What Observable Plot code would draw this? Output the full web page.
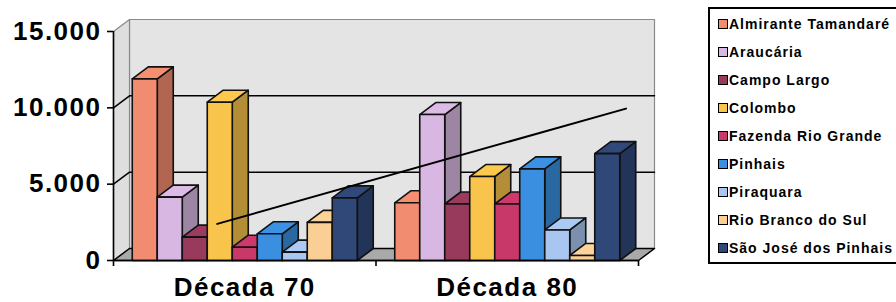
<!DOCTYPE html>
<html>
<head>
<meta charset="utf-8">
<script src="https://cdn.jsdelivr.net/npm/d3@7"></script>
<script src="https://cdn.jsdelivr.net/npm/@observablehq/plot@0.6"></script>
<style>
  html, body { margin: 0; padding: 0; background: #fff; width: 896px; height: 302px; overflow: hidden; }
  #wrap { position: relative; width: 896px; height: 302px; }
  #chart { position: absolute; left: 0; top: 0; }
  #legend {
    position: absolute; left: 708px; top: 7px; width: 210px; height: 252px;
    border: 2px solid #000; box-sizing: content-box;
    font-family: "Liberation Sans", Arial, sans-serif; font-weight: bold;
    font-size: 14px; letter-spacing: 1px; color: #000;
    padding-top: 1px;
  }
  .item { height: 28px; display: flex; align-items: center; padding-left: 8px; white-space: nowrap; }
  .sw { width: 8px; height: 8px; border: 1.5px solid #000; margin-right: 1px; flex: none; }
</style>
</head>
<body>
<div id="wrap"><div id="chart"></div><div id="legend"></div></div>
<script>
// ---- data ----
const categories = ["Década 70", "Década 80"];
const municipios = ["Almirante Tamandaré", "Araucária", "Campo Largo", "Colombo", "Fazenda Rio Grande", "Pinhais", "Piraquara", "Rio Branco do Sul", "São José dos Pinhais"];
const colors = ["#f28c70", "#d8b8e2", "#983a5c", "#f8c44c", "#c83868", "#3a8fe0", "#a8c6f0", "#f9cf96", "#2f4878"];
const decada70 = [11900, 4150, 1530, 10370, 870, 1750, 550, 2500, 4100];
const decada80 = [3780, 9560, 3700, 5500, 3700, 6000, 2000, 330, 7000];
const yTicks = [0, 5000, 10000, 15000];
const gridValues = [5000, 10000];
const trendPos = [4.15, 20.5];      // horizontal position in bar slots
const trendValue = [2400, 9950];

// ---- layout ----
const W = 700, H = 302, ML = 113, MR = 62, MT = 31, MB = 42;
const yMax = 15000;
const nSeries = municipios.length;
const catSlots = nSeries + 1.5;
const xMax = catSlots * categories.length;
const pxX = (W - ML - MR) / xMax;
const pxY = (H - MT - MB) / yMax;
const dX = 16 / pxX, dY = 12 / pxY;   // 3-D depth in data units

const series = [decada70, decada80];

// walls
const walls = [];
function poly(arr, id, pts, fill) { pts.concat([pts[0]]).forEach(([x, y]) => arr.push({id, x, y, fill})); }
poly(walls, "back", [[dX, dY], [xMax + dX, dY], [xMax + dX, yMax + dY], [dX, yMax + dY]], "#e4e4e4");
poly(walls, "left", [[0, 0], [dX, dY], [dX, yMax + dY], [0, yMax]], "#dedede");
const floor = [];
poly(floor, "floor", [[0, 0], [xMax, 0], [xMax + dX, dY], [dX, dY]], "#a9a9a9");

const grid = [];
gridValues.forEach(v => { [[0, v], [dX, v + dY], [xMax + dX, v + dY]].forEach(([x, y]) => grid.push({id: v, x, y})); });

// bars (painter's order: left to right; side, top, front)
const faces = [];
categories.forEach((cat, c) => {
  series[c].forEach((v, i) => {
    const x1 = c * catSlots + 0.75 + i, x2 = x1 + 1;
    const col = colors[i];
    const side = d3.color(col).darker(0.9).formatHex();
    const top = d3.color(col).brighter(0.05).formatHex();
    const k = `${c}-${i}`;
    poly(faces, k + "s", [[x2, 0], [x2 + dX, dY], [x2 + dX, v + dY], [x2, v]], side);
    poly(faces, k + "t", [[x1, v], [x2, v], [x2 + dX, v + dY], [x1 + dX, v + dY]], top);
    poly(faces, k + "f", [[x1, 0], [x2, 0], [x2, v], [x1, v]], col);
  });
});

const trend = trendPos.map((p, i) => ({x: p, y: trendValue[i]}));
const catCenters = categories.map((_, c) => c * catSlots + catSlots / 2);
const catBounds = d3.range(categories.length + 1).map(c => c * catSlots);
const fmt = d => d3.format(",")(d).replace(/,/g, ".");

const chart = Plot.plot({
  width: W, height: H,
  marginLeft: ML, marginRight: MR, marginTop: MT, marginBottom: MB,
  style: {fontFamily: "'Liberation Sans', Arial, sans-serif", letterSpacing: "1.5px", overflow: "visible", background: "transparent"},
  x: {type: "linear", domain: [0, xMax], axis: null},
  y: {domain: [0, yMax], axis: null},
  color: {type: "identity"},
  marks: [
    Plot.line(walls, {x: "x", y: "y", z: "id", fill: "fill", stroke: "#8a8a8a", strokeWidth: 1.2}),
    Plot.line(floor, {x: "x", y: "y", z: "id", fill: "fill", stroke: "#000", strokeWidth: 1.5}),
    Plot.line(grid, {x: "x", y: "y", z: "id", stroke: "#000", strokeWidth: 1.5}),
    Plot.line(faces, {x: "x", y: "y", z: "id", fill: "fill", stroke: "#111", strokeWidth: 1.6, strokeLinejoin: "round"}),
    Plot.line(trend, {x: "x", y: "y", stroke: "#000", strokeWidth: 2}),
    Plot.ruleX([0], {y1: 0, y2: yMax, stroke: "#000", strokeWidth: 1.6}),
    Plot.ruleY([0], {x1: 0, x2: xMax, stroke: "#000", strokeWidth: 1.6}),
    Plot.axisY({ticks: yTicks, label: null, tickSize: 6, tickPadding: 6, fontSize: 26, fontWeight: "bold", tickFormat: fmt, strokeWidth: 1.6}),
    Plot.axisX({ticks: catBounds, label: null, tickSize: 6, tickFormat: () => "", strokeWidth: 1.6}),
    Plot.axisX({ticks: catCenters, label: null, tickSize: 0, tickPadding: 17, fontSize: 26, fontWeight: "bold",
      tickFormat: d => categories[Math.round((d - catSlots / 2) / catSlots)]})
  ]
});
document.getElementById("chart").appendChild(chart);

// legend
const legend = d3.select("#legend");
municipios.forEach((m, i) => {
  const it = legend.append("div").attr("class", "item");
  it.append("div").attr("class", "sw").style("background", colors[i]);
  it.append("span").text(m);
});
</script>
</body>
</html>
